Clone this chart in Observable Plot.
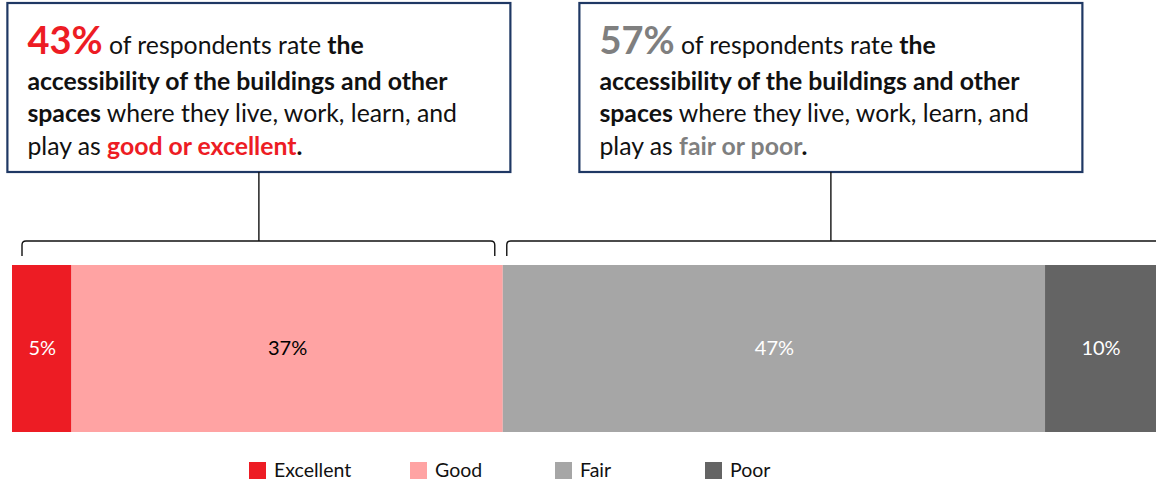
<!DOCTYPE html>
<html><head><meta charset="utf-8">
<script src="https://cdn.jsdelivr.net/npm/d3@7"></script>
<script src="https://cdn.jsdelivr.net/npm/@observablehq/plot@0.6"></script>
<style>
html,body{margin:0;padding:0;background:#fff;}
#chart{width:1156px;height:481px;overflow:hidden;}
#chart svg{font-family:Lato, "Open Sans", sans-serif;overflow:visible;}
</style></head><body><div id="chart"></div>
<script>
// ---- data ----
const categories = ["Excellent", "Good", "Fair", "Poor"];
const shares = [5.2, 37.7, 47.4, 9.7];
const shareLabels = ["5%", "37%", "47%", "10%"];
const groupHeadlines = ["43%", "57%"];
const groupRatings = ["good or excellent", "fair or poor"];
const groupCategories = [["Excellent", "Good"], ["Fair", "Poor"]];

// ---- styles ----
const colors = ["#ED1C24", "#FFA3A3", "#A6A6A6", "#646464"];
const whiteLabelCats = ["Excellent", "Fair", "Poor"];
const groupInk = ["#ED1C24", "#7F7F7F"];

const rows = categories.map((c, i) => ({category: c, share: shares[i], label: shareLabels[i], q: "Accessibility"}));

const chart = Plot.plot({
  width: 1156, height: 481,
  marginLeft: 12, marginRight: 0, marginTop: 265, marginBottom: 49,
  x: {domain: [0, 100], axis: null},
  y: {axis: null, padding: 0},
  color: {domain: categories, range: colors},
  marks: [
    Plot.barX(rows, Plot.stackX({x: "share", y: "q", fill: "category"})),
    Plot.text(rows, Plot.stackX({x: "share", y: "q", text: d => whiteLabelCats.includes(d.category) ? d.label : "", fill: "white", fontSize: 20})),
    Plot.text(rows, Plot.stackX({x: "share", y: "q", text: d => whiteLabelCats.includes(d.category) ? "" : d.label, fill: "black", fontSize: 20}))
  ]
});
document.getElementById("chart").append(chart);

const x = chart.scale("x");
const svg = d3.select(chart);
const g = svg.append("g").attr("text-anchor", "start").attr("font-family", "Lato, sans-serif");

// cumulative extents of groups
const cum = [];
let acc = 0;
categories.forEach((c, i) => { cum.push([acc, acc + shares[i]]); acc += shares[i]; });
const extent = cats => {
  const idx = cats.map(c => categories.indexOf(c));
  return [d3.min(idx, i => cum[i][0]), d3.max(idx, i => cum[i][1])];
};

const boxW = 503, boxTop = 3, boxH = 169;
const braceY = 241, braceEnd = 256, r = 4;
const baselines = [54, 90, 122, 155];
const bodySize = 24.8, bigSize = 38;

groupCategories.forEach((cats, gi) => {
  const [a, b] = extent(cats);
  const xa = x.apply(a), xb = x.apply(b);
  const cx = (xa + xb) / 2 + 1.5;
  const left = cx - boxW / 2;
  // box
  g.append("rect").attr("x", left).attr("y", boxTop).attr("width", boxW).attr("height", boxH)
    .attr("fill", "white").attr("stroke", "#1F3864").attr("stroke-width", 2.2);
  // connector
  g.append("line").attr("x1", cx).attr("x2", cx).attr("y1", boxTop + boxH).attr("y2", braceY)
    .attr("stroke", "#111").attr("stroke-width", 1.4);
  // brace
  const b1 = xa + (gi === 0 ? 10 : 4), b2 = gi === 1 ? xb + 20 : xb - 8;
  g.append("path")
    .attr("d", `M${b1},${braceEnd}L${b1},${braceY + r}Q${b1},${braceY} ${b1 + r},${braceY}L${b2 - r},${braceY}Q${b2},${braceY} ${b2},${braceY + r}L${b2},${braceEnd}`)
    .attr("fill", "none").attr("stroke", "#111").attr("stroke-width", 1.4);
  // text
  const tx = left + 20;
  const lines = [
    [{t: groupHeadlines[gi], w: 700, c: groupInk[gi], s: bigSize}, {t: " of respondents rate "}, {t: "the", w: 700}],
    [{t: "accessibility of the buildings and other", w: 700}],
    [{t: "spaces", w: 700}, {t: " where they live, work, learn, and"}],
    [{t: "play as "}, {t: groupRatings[gi], w: 700, c: groupInk[gi]}, {t: ".", w: 700}]
  ];
  lines.forEach((segs, li) => {
    const t = g.append("text").attr("x", tx).attr("y", baselines[li])
      .style("white-space", "pre").attr("font-size", bodySize).attr("fill", "#111");
    segs.forEach(s => {
      t.append("tspan").text(s.t)
        .attr("font-weight", s.w || 400)
        .attr("fill", s.c || "#111")
        .attr("font-size", s.s || bodySize);
    });
  });
});

// legend
const legendX = [249, 410, 555, 705];
const color = chart.scale("color");
categories.forEach((c, i) => {
  g.append("rect").attr("x", legendX[i]).attr("y", 462).attr("width", 17).attr("height", 17).attr("fill", color.apply(c));
  g.append("text").attr("x", legendX[i] + 25).attr("y", 477).attr("font-size", 19.5).attr("fill", "#111").text(c);
});
</script></body></html>
